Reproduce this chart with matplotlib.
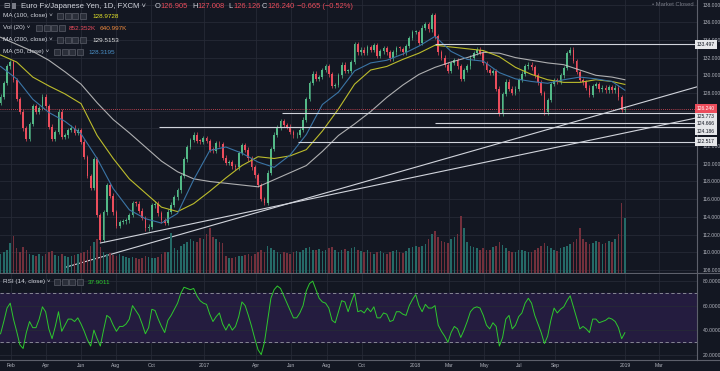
import numpy as np
import pandas as pd
import matplotlib
matplotlib.use("Agg")
import matplotlib.pyplot as plt
import matplotlib.dates as mdates
from matplotlib.patches import Rectangle
from matplotlib.lines import Line2D

plt.rcParams["font.family"] = ["Liberation Sans", "DejaVu Sans"]

BG = "#131722"
GRID = "#262a36"
TXT = "#b2b5be"
UP = "#53b987"
DOWN = "#eb4d5c"

# EUR/JPY closes, one value every ~4 trading days
closes = [
    127.6, 129.1, 131.0, 131.5, 129.5, 127.3, 125.9, 124.0, 122.8, 124.5,
    126.5, 125.9, 126.3, 127.6, 126.5, 124.2, 122.8, 123.6, 125.9, 123.0,
    123.2, 123.8, 124.1, 123.5, 123.8, 122.5, 120.8, 118.6, 117.3, 120.5,
    114.2, 111.4, 114.5, 117.6, 116.4, 114.5, 113.0, 113.4, 113.5, 113.6,
    114.2, 115.6, 115.5, 114.7, 113.9, 112.7, 112.9, 115.3, 115.5, 114.4,
    113.6, 113.3, 114.6, 115.4, 116.2, 117.0, 118.6, 120.5, 121.9, 122.7,
    123.3, 122.6, 122.5, 122.9, 122.6, 121.6, 121.5, 122.3, 122.2, 120.7,
    120.1, 120.2, 119.7, 119.6, 121.2, 122.1, 121.6, 120.6, 119.6, 118.7,
    117.6, 116.0, 115.6, 119.0, 121.7, 123.3, 124.1, 124.8, 124.4, 124.2,
    123.6, 123.2, 123.3, 123.8, 125.0, 127.3, 129.1, 130.2, 129.6, 129.8,
    130.6, 131.0, 130.1, 128.8, 128.9, 130.0, 131.2, 130.5, 130.5, 131.5,
    133.5, 132.6, 132.9, 132.5, 133.2, 132.9, 133.4, 132.2, 132.7, 133.1,
    132.6, 131.9, 132.6, 133.1, 133.0, 132.6, 133.3, 134.2, 134.9, 134.9,
    133.7, 135.4, 135.8, 135.2, 136.8, 134.4, 132.6, 132.0, 131.2, 130.5,
    131.4, 131.7, 131.0, 129.6, 130.6, 131.0, 132.0, 132.5, 132.9, 132.5,
    131.4, 130.6, 130.3, 130.5, 128.5, 125.6, 127.9, 129.3, 128.5, 128.0,
    128.5, 129.5, 130.2, 131.0, 131.2, 130.9, 130.0, 129.2, 128.0, 125.8,
    127.2, 129.0, 129.4, 129.3, 130.0, 130.8, 132.5, 132.9, 131.6, 130.4,
    129.5, 129.2, 128.6, 127.8, 128.8, 129.0, 128.4, 128.6, 128.3, 128.7,
    128.3, 128.6, 127.5, 126.1, 126.24,
]
first_open = 126.9

volumes_k = [
    300, 320, 350, 470, 570, 380, 320, 410, 350, 300,
    280, 260, 300, 270, 290, 320, 340, 280, 260, 300,
    270, 250, 260, 280, 290, 310, 330, 360, 420, 480,
    520, 400, 330, 300, 310, 280, 270, 290, 260, 250,
    240, 250, 230, 220, 240, 260, 250, 230, 240, 250,
    300, 320, 330, 620, 380, 360, 420, 450, 480, 520,
    500, 480, 540, 520, 600, 700, 560, 520, 480, 460,
    260, 240, 230, 250, 270, 260, 280, 300, 270, 290,
    320, 350, 330, 420, 380, 350, 330, 300, 320, 310,
    300, 320, 340, 330, 350, 380, 400, 360, 350, 370,
    340, 360, 380, 400, 360, 330, 350, 370, 340, 380,
    400, 360, 340, 330, 350, 320, 300, 330, 340, 310,
    300, 320, 340, 360, 330, 310, 340, 380, 400, 420,
    400, 420, 450, 520, 600, 650, 560, 500, 480, 460,
    520, 560, 600, 880, 700, 480, 420, 400, 380, 360,
    380, 350, 360, 400, 420, 480, 440, 380, 340, 320,
    330, 350, 360, 340, 320, 330, 350, 380, 420, 460,
    420, 380, 360, 340, 380, 400, 420, 450, 480, 520,
    700, 520, 480, 450, 460, 500, 480, 450, 470, 500,
    480, 520, 600, 1080, 852,
]

rsi_values = [
    37, 47, 58, 62, 49, 39, 28, 25, 38, 47,
    42, 42, 49, 59, 55, 41, 33, 43, 55, 39,
    44, 49, 49, 47, 50, 45, 39, 32, 27, 40,
    33, 27, 40, 52, 50, 44, 39, 43, 43, 45,
    49, 60, 56, 52, 45, 37, 42, 57, 56, 49,
    43, 38, 48, 52, 57, 62, 70, 75, 74, 73,
    74, 68, 64, 62, 61, 53, 47, 51, 54, 45,
    40, 45, 40, 43, 51, 63, 60, 52, 43, 33,
    24, 20, 30, 48, 66, 73, 76, 74, 68, 62,
    56, 50, 50, 54, 60, 72, 78, 80, 73, 66,
    63, 62, 58, 48, 46, 55, 64, 63, 55, 63,
    70, 55, 56, 54, 58, 55, 59, 50, 50, 54,
    53, 47, 48, 55, 55, 53, 52, 60, 65, 69,
    60, 55, 61, 58, 58, 60, 44, 39, 35, 30,
    38, 43, 41, 34, 40, 47, 55, 58, 59, 58,
    52, 44, 41, 46, 43, 27, 34, 49, 52, 41,
    44, 51, 54, 62, 66, 62, 52, 45, 38, 29,
    35, 48, 58, 54, 57, 59, 64, 68, 59, 50,
    41, 43, 41, 38, 49, 49, 46, 47, 48, 50,
    49, 47, 42, 33, 37.9,
]

# moving averages read every 5th candle
ma_points = list(range(0, 195, 5)) + [194]
ma50 = [131.0, 129.6, 127.3, 125.8, 124.8, 123.4, 120.6, 117.2, 114.8, 113.8,
        113.3, 114.4, 118.2, 121.5, 121.9, 121.2, 120.2, 119.6, 121.0, 123.3,
        126.7, 128.1, 130.5, 131.4, 131.7, 132.4, 133.3, 134.4, 132.7, 131.8,
        131.6, 130.3, 129.6, 129.3, 129.1, 129.5, 129.8, 129.6, 129.3, 128.32]
ma100 = [132.3, 131.5, 129.8, 128.8, 127.9, 126.8, 123.2, 120.6, 118.3, 116.7,
         115.1, 114.6, 115.5, 116.9, 118.4, 119.8, 120.8, 120.6, 120.9, 121.6,
         123.7, 126.2, 129.0, 130.6, 131.0, 131.8, 132.5, 133.4, 133.2, 133.0,
         132.8, 132.1, 130.9, 130.1, 129.5, 129.2, 129.2, 129.5, 129.3, 128.97]
ma200 = [134.3, 133.5, 132.7, 131.7, 130.4, 129.0, 126.9, 125.0, 123.5, 121.9,
         120.3, 119.1, 118.3, 118.0, 117.8, 117.6, 117.4, 118.2, 119.0, 119.8,
         121.4, 123.2, 124.5, 125.9, 127.5, 128.9, 130.1, 130.9, 131.5, 132.0,
         132.6, 132.5, 132.0, 131.7, 131.4, 131.2, 130.6, 130.0, 129.8, 129.5]

levels = [133.497, 125.773, 124.666, 124.186, 122.517]
level_starts = ["2018-02-05", "2017-05-16", "2018-02-05", "2016-10-14", "2017-06-13"]
trendlines = [("2016-07-05", 111.05, "2019-05-05", 125.2),
              ("2016-05-05", 108.3, "2019-05-05", 128.7)]
last_close = 126.240

tick_dates = ["2016-02-01", "2016-04-01", "2016-06-01", "2016-08-01", "2016-10-01",
              "2017-01-01", "2017-04-01", "2017-06-01", "2017-08-01", "2017-10-01",
              "2018-01-01", "2018-03-01", "2018-05-01", "2018-07-01", "2018-09-01",
              "2019-01-01", "2019-03-01"]
tick_labels = ["Feb", "Apr", "Jun", "Aug", "Oct", "2017", "Apr", "Jun", "Aug", "Oct",
               "2018", "Mar", "May", "Jul", "Sep", "2019", "Mar"]

# ---------------------------------------------------------------
W, H = 720, 371
fig = plt.figure(figsize=(7.2, 3.71), dpi=100, facecolor=BG)

def fx(px):
    return px / W

def fy(py):
    return 1 - py / H

ax = fig.add_axes([0, fy(273), fx(697), 273 / H])
rsi_ax = fig.add_axes([0, fy(360), fx(697), (360 - 274) / H], sharex=ax)
vol_ax = ax.twinx()

ax.set_facecolor(BG)
rsi_ax.set_facecolor(BG)
vol_ax.set_facecolor("none")

dates = pd.date_range("2016-01-14", "2018-12-31", periods=len(closes))
x = mdates.date2num(dates)
step = x[1] - x[0]
c = np.array(closes)
o = np.array([first_open] + closes[:-1])
up = c >= o
col = np.where(up, UP, DOWN)

# volume
vol_col = np.where(up, "#256a67", "#73303c")
vol_ax.bar(x, volumes_k, width=step * 0.5, color=vol_col, zorder=1, linewidth=0)
vol_ax.set_ylim(0, 4230)
vol_ax.axis("off")

# candles
hi = np.maximum(o, c) + 0.25
lo = np.minimum(o, c) - 0.25
ax.vlines(x, lo, hi, color=col, lw=0.5, zorder=3)
body = np.where(np.abs(c - o) < 0.1, 0.1, c - o)
ax.bar(x, body, bottom=o, width=step * 0.55, color=col, zorder=3, linewidth=0)

# moving averages
xm = x[ma_points]
ax.plot(xm, ma200, color="#c9c9c9", lw=0.8, alpha=0.85, zorder=4)
ax.plot(xm, ma100, color="#bcbc2c", lw=0.8, zorder=4)
ax.plot(xm, ma50, color="#3a74a5", lw=0.8, zorder=4)

xmin = mdates.date2num(pd.Timestamp("2016-01-13"))
xmax = mdates.date2num(pd.Timestamp("2019-05-05"))

# horizontal levels
for lv, st in zip(levels, level_starts):
    ax.hlines(lv, mdates.date2num(pd.Timestamp(st)), xmax, color="#d1d4dc", lw=0.8, zorder=5)
ax.axhline(last_close, color=DOWN, lw=0.6, ls=(0, (1, 1.5)), zorder=5)

# trendlines
for d0, p0, d1, p1 in trendlines:
    ax.plot([mdates.date2num(pd.Timestamp(d0)), mdates.date2num(pd.Timestamp(d1))],
            [p0, p1], color="#d1d4dc", lw=0.8, zorder=5)

ax.set_xlim(xmin, xmax)
ax.set_ylim(107.66, 138.51)

tick_x = [mdates.date2num(pd.Timestamp(d)) for d in tick_dates]
price_ticks = np.arange(108, 139, 2)

for a in (ax, rsi_ax):
    a.set_xticks(tick_x)
    for t in tick_x:
        a.axvline(t, color=GRID, lw=0.6, zorder=0)
    for s in ("top", "left"):
        a.spines[s].set_visible(False)
    a.spines["right"].set_color("#5d606b")
    a.spines["bottom"].set_color("#5d606b")
    a.spines["right"].set_linewidth(0.8)
    a.spines["bottom"].set_linewidth(0.8)
    a.yaxis.tick_right()
    a.tick_params(axis="both", length=0, colors=TXT, labelsize=3.6, pad=4)

for p in price_ticks:
    ax.axhline(p, color=GRID, lw=0.6, zorder=0)
# price labels hidden behind the level tags are left out, as on the chart
shown = [p for p in price_ticks if p not in (124, 126)]
ax.set_yticks(shown)
ax.set_yticklabels([f"{p:.3f}" for p in shown])
ax.tick_params(axis="x", labelbottom=False)

rsi_ax.set_xticklabels(tick_labels)
rsi_ax.tick_params(axis="x", pad=2)

# level price tags on the axis, pushed apart so they do not overlap
tags = sorted([(last_close, True)] + [(lv, False) for lv in levels], reverse=True)
prev = None
for lv, is_last in tags:
    pos = lv if prev is None else min(lv, prev - 0.85)
    prev = pos
    ax.text(1.0, pos, f"{lv:.3f}", transform=ax.get_yaxis_transform(), ha="left",
            va="center", fontsize=3.6, color="white" if is_last else BG,
            clip_on=False, zorder=11 if is_last else 10,
            bbox=dict(boxstyle="square,pad=0.35", fc=DOWN if is_last else "#e6e7ea",
                      ec="none"))

# RSI panel
rsi_ax.axhspan(30, 70, color="#241c3f", zorder=0)
for lv in (20, 40, 60, 80):
    rsi_ax.axhline(lv, color=GRID, lw=0.6, zorder=1)
for lv in (30, 70):
    rsi_ax.axhline(lv, color="#9598a1", lw=0.6, ls=(0, (4, 3)), zorder=2)
rsi_ax.plot(x, rsi_values, color="#2ec82e", lw=0.7, zorder=3)
rsi_ax.set_ylim(15.6, 85.8)
rsi_ax.set_yticks([20, 40, 60, 80])
rsi_ax.set_yticklabels(["20.0000", "40.0000", "60.0000", "80.0000"])

# panel separators run through the price scale too
for yy in (273, 360):
    fig.add_artist(Line2D([fx(697), 1], [fy(yy), fy(yy)], transform=fig.transFigure,
                          color="#5d606b", lw=0.8))

# legend texts
LBL = "#d1d4dc"

def icons(x0, y0):
    for i in range(4):
        fig.add_artist(Rectangle((fx(x0 + i * 7.5), fy(y0 + 3)), 6 / W, 6 / H,
                                 transform=fig.transFigure, fc="#2a2e39",
                                 ec="#6a6d78", lw=0.4))

fig.text(fx(3), fy(6), "\u229f", fontsize=5.5, color=TXT, va="center")
fig.add_artist(Rectangle((fx(12), fy(9)), 4 / W, 6 / H, transform=fig.transFigure,
                         fc="#787b86", ec="none"))
fig.text(fx(21), fy(6), "Euro Fx/Japanese Yen, 1D, FXCM \u02c5", fontsize=5.6,
         color=LBL, va="center")
ohlc = [(155, "O", "126.905"), (192, "H", "127.008"), (228, "L", "126.126"),
        (262, "C", "126.240")]
for px_, k, v in ohlc:
    fig.text(fx(px_), fy(6), k, fontsize=5.4, color=LBL, va="center")
    fig.text(fx(px_ + 5), fy(6), v, fontsize=5.4, color=DOWN, va="center")
fig.text(fx(297), fy(6), "\u22120.665 (\u22120.52%)", fontsize=5.4, color=DOWN, va="center")

legend_rows = [
    (16, "MA (100, close) \u02c5", 57, [(92, "128.9728", "#e5e52a")]),
    (28, "Vol (20) \u02c5", 36, [(69, "852.352K", "#eb4d5c"), (100, "640.997K", "#f08a3c")]),
    (40, "MA (200, close) \u02c5", 57, [(92, "129.5153", "#e0e0e0")]),
    (52, "MA (50, close) \u02c5", 54, [(88, "128.3195", "#4a90c8")]),
]
for yy, name, ix, vals in legend_rows:
    fig.text(fx(3), fy(yy), name, fontsize=4.6, color=LBL, va="center")
    icons(ix, yy)
    for vx, vt, vc in vals:
        fig.text(fx(vx), fy(yy), vt, fontsize=4.6, color=vc, va="center")

fig.text(fx(3), fy(282), "RSI (14, close) \u02c5", fontsize=4.6, color=LBL, va="center")
icons(54, 282)
fig.text(fx(88), fy(282), "37.9011", fontsize=4.6, color="#2ec82e", va="center")

fig.text(fx(694), fy(5), "\u2022 Market Closed", fontsize=4.2, color="#787b86",
         va="center", ha="right")

fig.savefig("out.png", dpi=100, facecolor=BG)
